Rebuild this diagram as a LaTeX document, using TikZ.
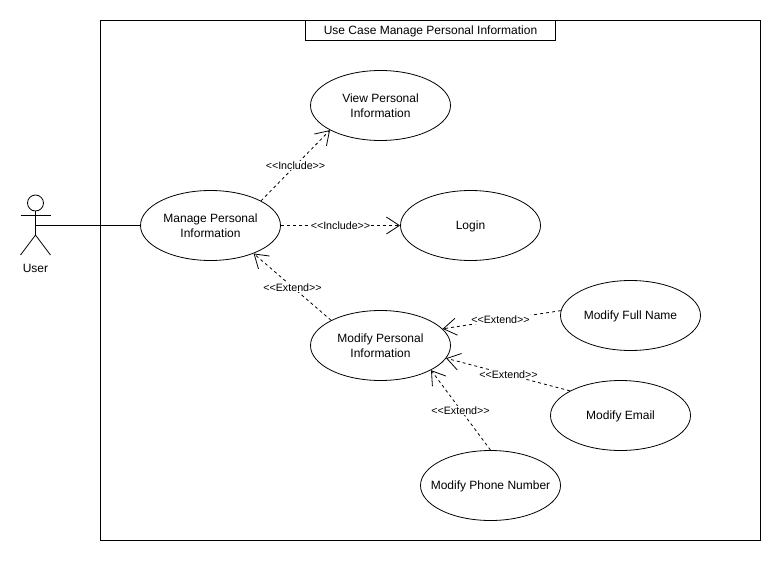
\documentclass[tikz,border=0pt]{standalone}
\usepackage{fontspec}
\setmainfont{Liberation Sans}
\usetikzlibrary{arrows.meta,shapes.geometric}
\newcommand{\stereotag}[1]{<\kern0pt<#1>\kern0pt>}
\tikzset{
  x=1pt,y=-1pt,
  solidline/.style={line width=0.8pt,draw=black},
  usecase/.style={ellipse,draw=black,line width=0.8pt,fill=white,minimum width=140pt,minimum height=70pt,inner xsep=-25pt,inner ysep=-10pt,align=center,font=\fontsize{12}{15}\selectfont},
  oneline/.style={text height=10pt,text depth=2pt},
  dep/.style={line width=0.8pt,draw=black,dash pattern=on 3pt off 3pt,-{Straight Barb[length=13pt,width=17pt,line width=0.8pt]}},
  deplabel/.style={fill=white,inner sep=1pt,font=\fontsize{10.7}{12}\selectfont},
  titlebox/.style={draw=black,line width=0.8pt,fill=white,minimum width=250pt,minimum height=20pt,inner sep=0pt,font=\fontsize{12}{14}\selectfont},
  plaintext/.style={inner sep=0pt,font=\fontsize{12}{14}\selectfont}
}
\begin{document}
\begin{tikzpicture}
\useasboundingbox[fill=white] (0,0) rectangle (782,562);
\draw[solidline] (100.5,20.5) rectangle (760.5,540.5);
\node[titlebox,oneline] (title) at (430.5,30.5) {Use Case Manage Personal Information};
% actor
\draw[solidline] (35.5,203) circle (8);
\draw[solidline] (35.5,211) -- (35.5,235);
\draw[solidline] (20.5,215) -- (50.5,215);
\draw[solidline] (20.5,255) -- (35.5,235) -- (50.5,255);
\coordinate (actor) at (35.5,225.5);
\node[plaintext] (user) at (35.5,268.5) {User};
% use cases
\node[usecase] (manage) at (210.5,225.5) {Manage Personal\\Information};
\node[usecase] (view) at (380.5,105.5) {View Personal\\Information};
\node[usecase,oneline] (login) at (470.5,225.5) {Login};
\node[usecase] (modify) at (380.5,345.5) {Modify Personal\\Information};
\node[usecase,oneline] (fullname) at (630.5,315.5) {Modify Full Name};
\node[usecase,oneline] (email) at (620.5,415.5) {Modify Email};
\node[usecase,oneline] (phone) at (490.5,485.5) {Modify Phone Number};
% connectors
\draw[solidline] (actor) -- (manage.west);
\draw[dep] (manage.26) -- (view.206.6);
\draw[dep] (manage.east) -- (login.west);
\draw[dep] (modify.153.4) -- (manage.-33.7);
\draw[dep] (fullname.176.7) -- (modify.15.3);
\draw[dep] (email.154.3) -- (modify.-11.6);
\draw[dep] (phone.north) -- (modify.-26);
% labels
\node[deplabel] (l1) at (295.5,165.5) {\stereotag{Include}};
\node[deplabel] (l2) at (340.5,225.5) {\stereotag{Include}};
\node[deplabel] (l3) at (292.5,287.5) {\stereotag{Extend}};
\node[deplabel] (l4) at (500.5,319.5) {\stereotag{Extend}};
\node[deplabel] (l5) at (508.5,374.5) {\stereotag{Extend}};
\node[deplabel] (l6) at (460.5,410.5) {\stereotag{Extend}};
\end{tikzpicture}
\end{document}
